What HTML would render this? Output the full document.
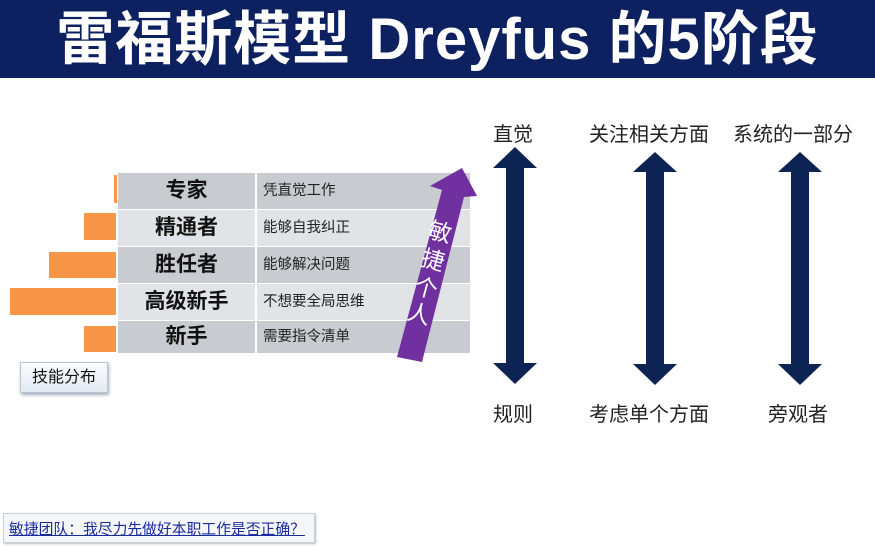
<!DOCTYPE html>
<html><head><meta charset="utf-8"><style>
body{margin:0;width:875px;height:546px;background:#fff;overflow:hidden;position:relative;font-family:"Liberation Sans","Noto Sans CJK SC",sans-serif}
.hdr{position:absolute;left:0;top:0;width:875px;height:78px;background:#0d2160;color:#fff;font-weight:bold;font-size:58px;line-height:80px;text-align:center;letter-spacing:1px;white-space:nowrap}
.row{position:absolute;left:118px;width:352px;height:36px}
.c1{position:absolute;left:0;width:137px;height:100%;font-size:21px;font-weight:bold;text-align:center;line-height:36px;color:#111}
.c2{position:absolute;left:139px;width:213px;height:100%;font-size:14.5px;line-height:36px;padding-left:6px;box-sizing:border-box;color:#222}
.bar{position:absolute;background:#f79646}
.lab{position:absolute;font-size:20px;color:#222;white-space:nowrap}
</style></head><body>
<div class="hdr">雷福斯模型 Dreyfus 的5阶段</div>

<div class="row" style="top:173px"><div class="c1" style="background:#c8cbd0">专家</div><div class="c2" style="background:#c8cbd0">凭直觉工作</div></div>
<div class="row" style="top:210px"><div class="c1" style="background:#e1e3e6">精通者</div><div class="c2" style="background:#e1e3e6">能够自我纠正</div></div>
<div class="row" style="top:247px"><div class="c1" style="background:#c8cbd0">胜任者</div><div class="c2" style="background:#c8cbd0">能够解决问题</div></div>
<div class="row" style="top:284px"><div class="c1" style="background:#e1e3e6">高级新手</div><div class="c2" style="background:#e1e3e6">不想要全局思维</div></div>
<div class="row" style="top:321px;height:32px"><div class="c1" style="background:#c8cbd0;line-height:32px">新手</div><div class="c2" style="background:#c8cbd0;line-height:32px">需要指令清单</div></div>

<div class="bar" style="left:114px;top:175px;width:3px;height:28px"></div>
<div class="bar" style="left:84px;top:213px;width:32px;height:27px"></div>
<div class="bar" style="left:49px;top:252px;width:67px;height:26px"></div>
<div class="bar" style="left:10px;top:288px;width:106px;height:27px"></div>
<div class="bar" style="left:84px;top:326px;width:32px;height:26px"></div>

<div style="position:absolute;left:20px;top:362px;width:86px;height:29px;border:1px solid #b8c4d4;background:linear-gradient(#fafcff,#e4eaf2);box-shadow:1px 2px 3px #aab;font-size:16px;line-height:29px;text-align:center;color:#111">技能分布</div>

<svg style="position:absolute;left:0;top:0" width="875" height="546">
<polygon points="397,357 422,362 464,197 477,196 462,168 430,186 442,190" fill="#7030a0"/>
<g fill="#fff" font-size="23" font-family="Liberation Sans,Noto Sans CJK SC,sans-serif">
<text x="440" y="240" transform="rotate(15 440 232)" text-anchor="middle">敏</text>
<text x="433" y="268" transform="rotate(15 433 260)" text-anchor="middle">捷</text>
<text x="426" y="296" transform="rotate(15 426 288)" text-anchor="middle">个</text>
<text x="419" y="322" transform="rotate(15 419 314)" text-anchor="middle">人</text>
</g>
<g fill="#0d2354">
<polygon points="515,147 537,168 524,168 524,363 537,363 515,384 493,363 506,363 506,168 493,168"/>
<polygon points="655,152 677,172 664,172 664,364 677,364 655,385 633,364 646,364 646,172 633,172"/>
<polygon points="800,152 822,172 809,172 809,364 822,364 800,385 778,364 791,364 791,172 778,172"/>
</g>
</svg>

<div class="lab" style="left:493px;top:118px">直觉</div>
<div class="lab" style="left:589px;top:118px">关注相关方面</div>
<div class="lab" style="left:733px;top:118px">系统的一部分</div>
<div class="lab" style="left:493px;top:398px">规则</div>
<div class="lab" style="left:589px;top:398px">考虑单个方面</div>
<div class="lab" style="left:768px;top:398px">旁观者</div>

<div style="position:absolute;left:3px;top:513px;width:310px;height:28px;border:1px solid #c8d0dc;background:#f4f6fa;box-shadow:1px 1px 2px #bbb"></div>
<div style="position:absolute;left:9px;top:518px;font-size:14.8px;color:#1a2c9c;text-decoration:underline;white-space:nowrap">敏捷团队：我尽力先做好本职工作是否正确？</div>
</body></html>
